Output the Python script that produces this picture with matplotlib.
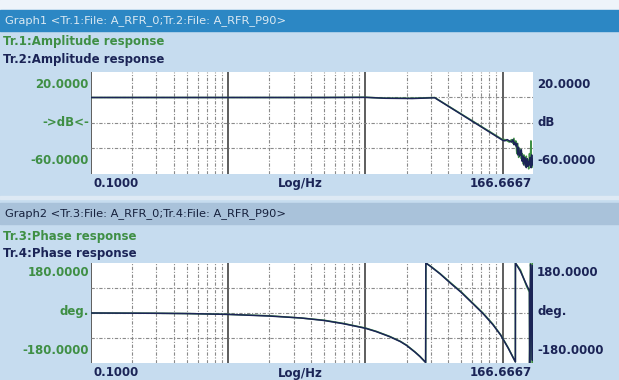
import matplotlib.pyplot as plt
import numpy as np
from matplotlib.patches import Rectangle
from matplotlib.ticker import LogLocator, NullFormatter, FixedLocator

# ---- data ----
amp_freq = [0.1, 1, 5, 10, 14, 22, 32, 100, 104, 108, 112, 116, 119, 121, 123, 125,
            127, 129, 131, 133, 135, 137, 139, 141, 143, 145, 147, 149, 151, 153, 155,
            157, 159, 161, 163, 165, 166.6667]
amp_tr1 = [0, 0, 0, 0.2, -0.5, -0.6, 0, -33, -33, -34, -35, -33, -36, -32, -37, -34,
           -44, -36, -47, -40, -42, -48, -44, -52, -45, -50, -54, -46, -53, -49, -56,
           -44, -52, -34, -55, -48, -52]
amp_tr2 = [0, 0, 0, 0.1, -0.6, -0.8, -0.2, -33.5, -34, -33, -34, -35, -33, -37, -35, -38,
           -36, -45, -39, -46, -44, -41, -50, -46, -53, -47, -51, -55, -48, -54, -50,
           -53, -47, -55, -45, -53, -50]

ph_freq = [0.1, 0.3, 0.5, 1, 2, 3.4, 5, 7, 10, 12, 15, 18, 20, 23, 25, 27.5, 27.6,
           30, 35, 42, 50, 60, 72, 85, 97, 110, 124, 124.1, 135, 150, 157, 157.5,
           160, 162, 165, 166]
ph_tr3 = [0, -1, -2, -5, -10, -18, -26, -38, -54, -66, -84, -102, -116, -140, -156, -178, 180,
          168, 142, 108, 76, 38, 0, -40, -79, -125, -176, 180, 155, 95, 75, -180,
          180, 120, -180, 180]
ph_tr4 = [0, -1, -2, -5, -11, -18, -27, -39, -55, -67, -85, -103, -117, -141, -157, -178, 180,
          167, 141, 106, 74, 36, -2, -42, -80, -127, -176, 180, 150, 100, 80, -180,
          175, 130, -170, 170]

x_labels = ["0.1000", "Log/Hz", "166.6667"]
amp_left = ["20.0000", "->dB<-", "-60.0000"]
amp_right = ["20.0000", "dB", "-60.0000"]
ph_left = ["180.0000", "deg.", "-180.0000"]
ph_right = ["180.0000", "deg.", "-180.0000"]

W, H = 619, 380
bg = '#c6dcef'
green = '#3f8f45'
navy = '#1b2456'

plt.rcParams['font.family'] = ['DejaVu Sans']

fig = plt.figure(figsize=(W / 100, H / 100), dpi=100, facecolor=bg)


def px(x, y):
    return x / W, 1 - y / H


def bar(y0, y1, color):
    fig.patches.append(Rectangle(px(0, y1), 1, (y1 - y0) / H, transform=fig.transFigure,
                                 color=color, zorder=0))


# top white strip and title bars
bar(0, 10, '#eef4fa')
bar(10, 31, '#2c87c4')
bar(196, 199, '#dde9f4')
bar(203, 224, '#a9c2da')

fig.text(*px(5, 20.5), "Graph1 <Tr.1:File: A_RFR_0;Tr.2:File: A_RFR_P90>", color='#dbe9f2',
         fontsize=8.2, va='center')
fig.text(*px(5, 213.5), "Graph2 <Tr.3:File: A_RFR_0;Tr.4:File: A_RFR_P90>", color='#15203c',
         fontsize=8.2, va='center')
fig.text(*px(3, 41), "Tr.1:Amplitude response", color=green, fontsize=8.5, weight='bold', va='center')
fig.text(*px(3, 60), "Tr.2:Amplitude response", color=navy, fontsize=8.5, weight='bold', va='center')
fig.text(*px(3, 236), "Tr.3:Phase response", color=green, fontsize=8.5, weight='bold', va='center')
fig.text(*px(3, 253), "Tr.4:Phase response", color=navy, fontsize=8.5, weight='bold', va='center')


def panel(top, bottom, freq, y1, y2, ylim, grid_y, left_lbl, right_lbl, ylab_pos):
    l, b = px(91, bottom)
    ax = fig.add_axes([l, b, (533 - 91) / W, (bottom - top) / H])
    ax.set_facecolor('white')
    ax.set_xscale('log')
    ax.set_xlim(0.1, 166.6667)
    ax.set_ylim(*ylim)
    ax.xaxis.set_major_locator(LogLocator(base=10))
    ax.xaxis.set_minor_locator(LogLocator(base=10, subs=np.arange(2, 10)))
    ax.xaxis.set_minor_formatter(NullFormatter())
    ax.yaxis.set_major_locator(FixedLocator(grid_y))
    ax.xaxis.grid(True, which='major', color='#505050', lw=1.3, ls='-')
    ax.xaxis.grid(True, which='minor', color='#8a8a8a', lw=0.8, ls=(0, (3, 1.5, 1, 1.5)))
    ax.yaxis.grid(True, which='major', color='#8a8a8a', lw=0.8, ls=(0, (3, 1.5, 1, 1.5)))
    ax.tick_params(which='both', length=0, labelbottom=False, labelleft=False)
    for s in ax.spines.values():
        s.set_visible(False)
    ax.set_axisbelow(True)
    ax.plot(freq, y1, color=green, lw=1.1)
    ax.plot(freq, y2, color=navy, lw=1.1)
    # axis texts
    for lbl, yy in zip(left_lbl, ylab_pos):
        fig.text(*px(89, yy), lbl, color=green, fontsize=8.5, weight='bold', ha='right', va='center')
    for lbl, yy in zip(right_lbl, ylab_pos):
        fig.text(*px(537, yy), lbl, color=navy, fontsize=8.5, weight='bold', ha='left', va='center')
    ty = bottom + 10
    fig.text(*px(93, ty), x_labels[0], color=navy, fontsize=8.5, weight='bold', ha='left', va='center')
    fig.text(*px(300, ty), x_labels[1], color=navy, fontsize=8.5, weight='bold', ha='center', va='center')
    fig.text(*px(532, ty), x_labels[2], color=navy, fontsize=8.5, weight='bold', ha='right', va='center')
    return ax


panel(72, 174, amp_freq, amp_tr1, amp_tr2, (-60, 20), [0, -20, -40],
      amp_left, amp_right, [84, 123, 160])
panel(263, 363, ph_freq, ph_tr3, ph_tr4, (-180, 180), [90, 0, -90],
      ph_left, ph_right, [273, 312, 350])

fig.savefig('out.png', dpi=100, facecolor=bg)
